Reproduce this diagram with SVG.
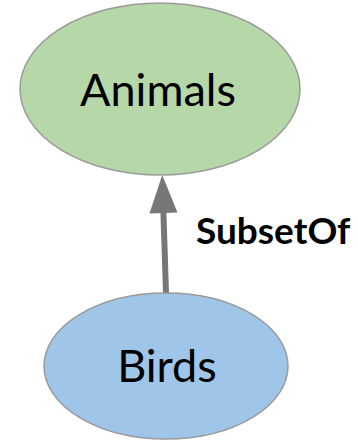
<svg xmlns="http://www.w3.org/2000/svg" width="358" height="443" viewBox="0 0 358 443">
  <style>
    .node { stroke: #9a9a9a; stroke-width: 1.5; }
    .label { font-family: Lato, "Open Sans", "Liberation Sans", sans-serif; fill: #000; text-anchor: middle; }
    .edge { stroke: #777; stroke-width: 6; fill: none; }
    .edge-label { font-family: Lato, "Open Sans", "Liberation Sans", sans-serif; font-weight: bold; font-size: 37px; fill: #000; }
  </style>
  <defs>
    <!-- filled triangular head, tip at the end of the line -->
    <marker id="arrowhead" markerUnits="userSpaceOnUse" markerWidth="38" markerHeight="28" refX="8" refY="14" orient="auto" overflow="visible">
      <path d="M0,0 L38,14 L0,28 Z" fill="#777"/>
    </marker>
  </defs>

  <g id="connectors">
    <line class="edge" x1="166" y1="293" x2="163.2" y2="205" marker-end="url(#arrowhead)"/>
    <text class="edge-label" x="196" y="244">SubsetOf</text>
  </g>

  <g id="animals">
    <ellipse class="node" cx="160" cy="89" rx="140" ry="86" fill="#b6d7a8"/>
    <text class="label" x="158" y="106" font-size="45">Animals</text>
  </g>

  <g id="birds">
    <ellipse class="node" cx="166" cy="366" rx="122" ry="73" fill="#9fc5e8"/>
    <text class="label" x="167" y="382" font-size="45">Birds</text>
  </g>
</svg>
